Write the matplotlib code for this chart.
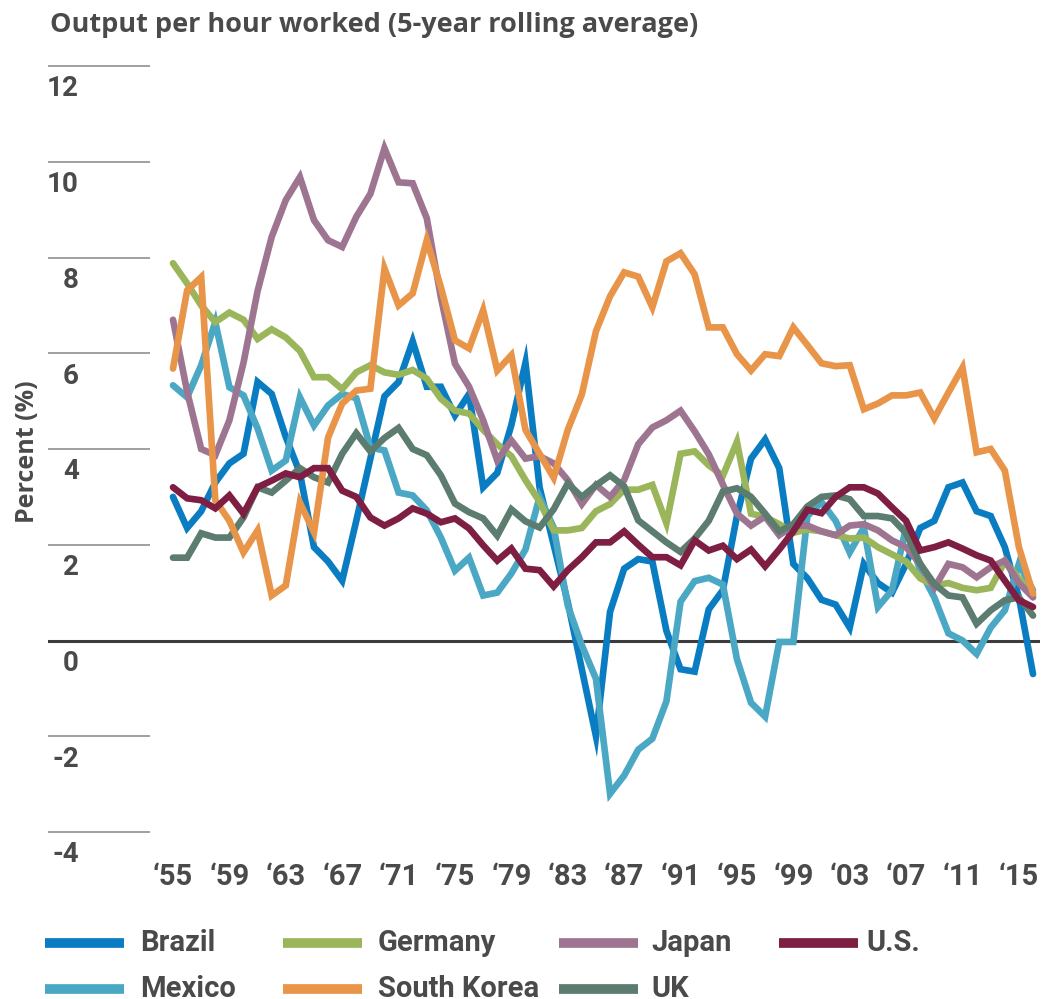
import matplotlib
matplotlib.use('Agg')
import matplotlib.pyplot as plt
from matplotlib.lines import Line2D
import matplotlib.transforms as mtransforms

years = list(range(1955, 2017))

brazil = [3.0, 2.35, 2.7, 3.3, 3.7, 3.9, 5.4, 5.15, 4.25, 3.5,
          1.95, 1.65, 1.25, 2.5, 3.8, 5.1, 5.4, 6.25, 5.3, 5.3,
          4.7, 5.15, 3.2, 3.5, 4.5, 5.8, 3.2, 2.0, 0.8, -0.6,
          -2.0, 0.6, 1.5, 1.7, 1.65, 0.2, -0.6, -0.65, 0.65, 1.05,
          2.6, 3.8, 4.2, 3.6, 1.6, 1.3, 0.85, 0.75, 0.27, 1.6,
          1.2, 1.0, 1.6, 2.35, 2.5, 3.2, 3.3, 2.7, 2.6, 1.95,
          0.9, -0.7]
mexico = [5.33, 5.08, 5.75, 6.65, 5.29, 5.12, 4.43, 3.55, 3.76, 5.08,
          4.49, 4.91, 5.15, 5.06, 4.03, 3.97, 3.09, 3.03, 2.72, 2.15,
          1.46, 1.73, 0.94, 1.0, 1.4, 1.9, 3.0, 2.36, 0.73, -0.1,
          -0.8, -3.2, -2.82, -2.28, -2.05, -1.27, 0.81, 1.24, 1.31, 1.17,
          -0.39, -1.3, -1.59, -0.03, -0.03, 2.6, 2.89, 2.5, 1.84, 2.36,
          0.7, 1.05, 2.37, 1.46, 0.9, 0.15, 0.0, -0.28, 0.27, 0.63,
          1.6, 1.05]
germany = [7.88, 7.46, 7.0, 6.65, 6.85, 6.7, 6.3, 6.5, 6.33, 6.05,
           5.5, 5.5, 5.25, 5.6, 5.75, 5.6, 5.55, 5.65, 5.47, 5.05,
           4.8, 4.74, 4.4, 4.1, 3.85, 3.35, 2.9, 2.3, 2.3, 2.35,
           2.7, 2.85, 3.15, 3.15, 3.25, 2.45, 3.9, 3.95, 3.66, 3.44,
           4.15, 2.65, 2.58, 2.43, 2.25, 2.32, 2.28, 2.2, 2.13, 2.15,
           1.95, 1.8, 1.65, 1.3, 1.15, 1.2, 1.1, 1.05, 1.1, 1.65,
           1.3, 0.95]
south_korea = [5.68, 7.31, 7.59, 2.93, 2.5, 1.84, 2.3, 0.94, 1.15, 2.88,
               2.26, 4.24, 4.95, 5.22, 5.26, 7.77, 7.0, 7.25, 8.36, 7.38,
               6.27, 6.1, 6.9, 5.64, 5.96, 4.4, 3.9, 3.4, 4.4, 5.14,
               6.46, 7.19, 7.69, 7.6, 6.96, 7.92, 8.09, 7.65, 6.54, 6.54,
               5.98, 5.64, 5.98, 5.94, 6.54, 6.17, 5.79, 5.73, 5.75, 4.83,
               4.95, 5.12, 5.12, 5.18, 4.64, 5.18, 5.7, 3.93, 4.0, 3.55,
               1.95, 0.98]
japan = [6.7, 5.2, 4.0, 3.87, 4.6, 5.8, 7.3, 8.43, 9.2, 9.68,
         8.78, 8.36, 8.22, 8.85, 9.33, 10.28, 9.57, 9.55, 8.82, 7.17,
         5.78, 5.3, 4.6, 3.76, 4.18, 3.8, 3.85, 3.7, 3.35, 2.85,
         3.25, 3.0, 3.35, 4.1, 4.45, 4.6, 4.8, 4.37, 3.89, 3.26,
         2.65, 2.4, 2.59, 2.2, 2.4, 2.4, 2.28, 2.2, 2.4, 2.43,
         2.3, 2.09, 1.95, 1.6, 1.1, 1.6, 1.53, 1.32, 1.53, 1.67,
         1.2, 0.9]
uk = [1.73, 1.73, 2.24, 2.15, 2.15, 2.57, 3.2, 3.09, 3.34, 3.6,
      3.41, 3.3, 3.9, 4.33, 3.95, 4.23, 4.44, 4.0, 3.87, 3.45,
      2.86, 2.68, 2.55, 2.19, 2.74, 2.49, 2.36, 2.74, 3.28, 3.0,
      3.24, 3.45, 3.22, 2.51, 2.28, 2.05, 1.85, 2.13, 2.5, 3.11,
      3.18, 3.0, 2.65, 2.28, 2.43, 2.8, 3.0, 3.03, 2.95, 2.6,
      2.6, 2.55, 2.24, 1.6, 1.18, 0.94, 0.9, 0.35, 0.63, 0.84,
      0.9, 0.52]
us = [3.2, 2.97, 2.93, 2.76, 3.03, 2.65, 3.2, 3.34, 3.49, 3.41,
      3.6, 3.6, 3.13, 3.0, 2.57, 2.4, 2.55, 2.76, 2.65, 2.47,
      2.55, 2.34, 1.99, 1.67, 1.92, 1.5, 1.47, 1.13, 1.47, 1.74,
      2.05, 2.05, 2.28, 2.0, 1.74, 1.74, 1.57, 2.09, 1.88, 1.98,
      1.7, 1.9, 1.55, 1.9, 2.28, 2.73, 2.66, 3.0, 3.2, 3.2,
      3.07, 2.78, 2.5, 1.88, 1.95, 2.05, 1.92, 1.78, 1.67, 1.25,
      0.84, 0.7]

series = [
    ('Brazil', brazil, '#0a7dc2'),
    ('Mexico', mexico, '#4ba8c4'),
    ('Germany', germany, '#9bb65a'),
    ('Japan', japan, '#9e7590'),
    ('UK', uk, '#5b7c6e'),
    ('South Korea', south_korea, '#e8954a'),
    ('U.S.', us, '#7e1e43'),
]
legend_rows = [['Brazil', 'Germany', 'Japan', 'U.S.'],
               ['Mexico', 'South Korea', 'UK']]

yticks = [12, 10, 8, 6, 4, 2, 0, -2, -4]
xticks = list(range(1955, 2016, 4))
xlabels = ['\u2018' + str(y)[2:] for y in xticks]

text_col = '#4a4a4a'
tick_font = ['Roboto', 'DejaVu Sans']
head_font = ['Open Sans', 'DejaVu Sans']

W, H = 1048, 999
fig = plt.figure(figsize=(W / 100, H / 100), dpi=100)
ax = fig.add_axes([48 / W, 1 - 832 / H, 992 / W, (832 - 66) / H])

px_per_year = 860 / 61
x_left = 1955 - (173 - 48) / px_per_year
x_right = 1955 + (1040 - 173) / px_per_year
x_grid_end = 1955 - (173 - 150) / px_per_year
ax.set_xlim(x_left, x_right)
ax.set_ylim(-4, 12)

# short grey marks at the left, full dark line at zero
for v in yticks:
    if v == 0:
        ax.axhline(0, color='#3c3c3c', lw=2.2, zorder=1)
    else:
        ax.plot([x_left, x_grid_end], [v, v], color='#a0a0a0', lw=1.4,
                solid_capstyle='butt', clip_on=False, zorder=1)

for name, vals, col in series:
    ax.plot(years, vals, color=col, lw=4.8, solid_joinstyle='miter',
            solid_capstyle='round', label=name, zorder=3)

trans = mtransforms.blended_transform_factory(ax.transAxes, ax.transData)
for v in yticks:
    ax.text((79 - 48) / 992, v - 0.48, str(v), transform=trans, ha='right',
            va='center', fontsize=20, fontweight='bold', color=text_col,
            family=tick_font)

ax.set_xticks(xticks)
ax.set_xticklabels(xlabels, fontsize=21, fontweight='bold', color=text_col,
                   family=tick_font)
ax.tick_params(axis='x', length=0, pad=22)
ax.set_yticks([])
for s in ax.spines.values():
    s.set_visible(False)

fig.text(50 / W, 1 - 25 / H, 'Output per hour worked (5-year rolling average)',
         ha='left', va='center', fontsize=19.5, fontweight='bold',
         color=text_col, family=head_font)
fig.text(28 / W, 1 - 452 / H, 'Percent (%)', rotation=90, ha='center',
         va='center', fontsize=18, fontweight='bold', color=text_col,
         family=head_font)

colors = {name: col for name, vals, col in series}
handle_x = [45, 283, 559, 779]
text_x = [140, 378, 651, 866]
row_y = [943, 989]
for r, row in enumerate(legend_rows):
    for c, name in enumerate(row):
        y = 1 - row_y[r] / H
        fig.add_artist(Line2D([handle_x[c] / W, (handle_x[c] + 79) / W], [y, y],
                              color=colors[name], lw=7, solid_capstyle='butt',
                              transform=fig.transFigure))
        fig.text(text_x[c] / W, y, name, ha='left', va='center', fontsize=21,
                 fontweight='bold', color=text_col, family=tick_font)

fig.savefig('out.png', dpi=100)
